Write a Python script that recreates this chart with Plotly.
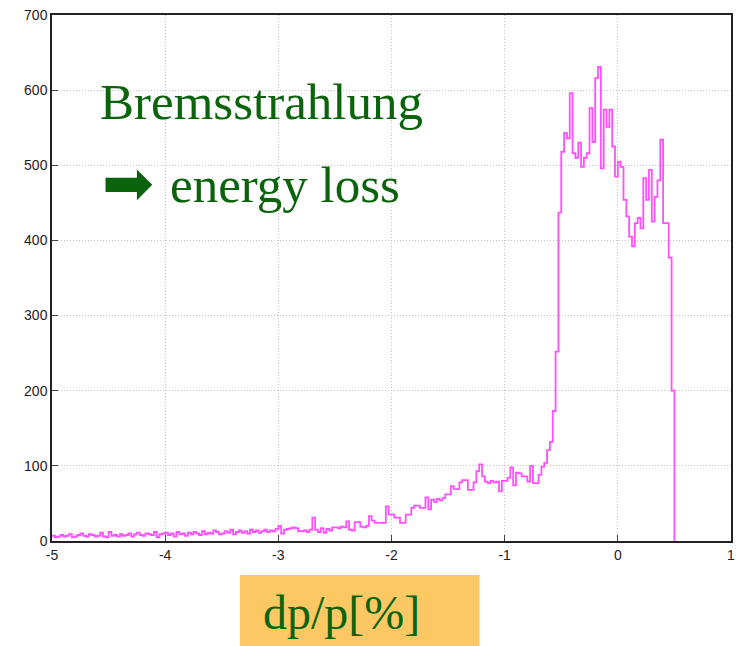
import numpy as np
import plotly.graph_objects as go

# ---------------- data ----------------
BIN_START = -5.0
BIN_WIDTH = 0.025

# counts per bin, dp/p from -5.0 to -3.0
counts_m5_m3 = [7, 5, 6, 8, 6, 7, 9, 5, 6, 8, 10, 7, 6, 9, 8, 6, 7, 11, 6, 5,
                12, 7, 8, 6, 9, 7, 8, 10, 6, 9, 11, 8, 7, 10, 9, 8, 12, 5, 9, 10,
                11, 8, 10, 6, 12, 9, 10, 7, 11, 9, 12, 10, 8, 13, 9, 11, 10, 14, 12, 9,
                10, 13, 11, 15, 9, 12, 14, 11, 13, 10, 15, 12, 14, 11, 13, 15, 12, 14, 13, 16]
# -3.0 to -2.0
counts_m3_m2 = [20, 10, 15, 16, 17, 18, 17, 13, 13, 14, 12, 15, 31, 15, 12, 17, 11, 16, 14, 18,
                18, 17, 19, 18, 26, 15, 14, 25, 25, 19, 18, 20, 33, 27, 24, 24, 24, 24, 46, 35]
# -2.0 to -0.5
counts_m2_m05 = [35, 31, 31, 24, 24, 35, 35, 44, 47, 47, 44, 44, 58, 42, 55, 52, 56, 54, 57, 62,
                 62, 73, 69, 69, 78, 81, 81, 68, 68, 78, 93, 102, 86, 79, 77, 80, 78, 79, 66, 80,
                 80, 84, 98, 74, 91, 90, 86, 86, 79, 100, 77, 77, 88, 99, 104, 121, 132, 173, 252, 437]
# -0.5 to 0.5
counts_m05_p05 = [518, 543, 536, 596, 516, 510, 530, 498, 510, 516, 576, 531, 616, 631, 496, 574,
                  551, 574, 525, 485, 505, 498, 454, 432, 405, 392, 423, 430, 416, 483, 454, 494,
                  425, 458, 480, 534, 423, 423, 377, 200]

x_tickvals = [-5, -4, -3, -2, -1, 0, 1]
x_ticktext = ["-5", "-4", "-3", "-2", "-1", "0", "1"]
y_tickvals = [0, 100, 200, 300, 400, 500, 600, 700]
y_ticktext = ["0", "100", "200", "300", "400", "500", "600", "700"]

title_line1 = "Bremsstrahlung"
title_line2 = "energy loss"
arrow_glyph = "\u27A1"
x_label = "dp/p[%]"

counts = counts_m5_m3 + counts_m3_m2 + counts_m2_m05 + counts_m05_p05
edges = BIN_START + BIN_WIDTH * np.arange(len(counts) + 1)
y_steps = counts + [0]

# ---------------- figure ----------------
W, H = 736, 646
ML, MR, MT, MB = 52, 1, 15, 105
pw = W - ML - MR
ph = H - MT - MB

def px_x(p):
    return (p - ML) / pw

def px_y(p):
    return (H - MB - p) / ph

fig = go.Figure()
fig.add_trace(go.Scatter(
    x=edges, y=y_steps, mode="lines", line_shape="hv",
    line=dict(color="#ff50ff", width=1.8), hoverinfo="skip", showlegend=False,
))

green = "#0b640b"
serif = "Liberation Serif, Times New Roman, serif"

fig.add_annotation(x=px_x(98), y=px_y(102), xref="paper", yref="paper",
                   text=title_line1, showarrow=False, xanchor="left", yanchor="middle",
                   font=dict(family=serif, size=51, color=green))
fig.add_annotation(x=px_x(100), y=px_y(183), xref="paper", yref="paper",
                   text=arrow_glyph, showarrow=False, xanchor="left", yanchor="middle",
                   font=dict(family="DejaVu Sans", size=62, color=green))
fig.add_annotation(x=px_x(169), y=px_y(185), xref="paper", yref="paper",
                   text=title_line2, showarrow=False, xanchor="left", yanchor="middle",
                   font=dict(family=serif, size=51, color=green))

fig.add_shape(type="rect", xref="paper", yref="paper",
              x0=px_x(241), x1=px_x(482), y0=px_y(646), y1=px_y(575),
              fillcolor="#fcc864", line=dict(width=0), layer="above")
fig.add_annotation(x=px_x(262), y=px_y(612), xref="paper", yref="paper",
                   text=x_label, showarrow=False, xanchor="left", yanchor="middle",
                   font=dict(family=serif, size=48, color=green))

axis_common = dict(showline=True, linecolor="#222", linewidth=1.5, mirror=True,
                   ticks="inside", ticklen=6, tickcolor="#444", tickwidth=1,
                   showgrid=True, gridcolor="#c4c4c4", griddash="1px,2px", gridwidth=1,
                   zeroline=False, ticklabeloverflow="allow",
                   tickfont=dict(family="Liberation Sans, Arial, sans-serif", size=14, color="#222"))

fig.update_xaxes(range=[-5, 1], tickvals=x_tickvals, ticktext=x_ticktext, **axis_common)
fig.update_yaxes(range=[0, 700], tickvals=y_tickvals, ticktext=y_ticktext, **axis_common)

fig.update_layout(width=W, height=H, margin=dict(l=ML, r=MR, t=MT, b=MB),
                  plot_bgcolor="white", paper_bgcolor="white")

fig.write_html("out.html")
